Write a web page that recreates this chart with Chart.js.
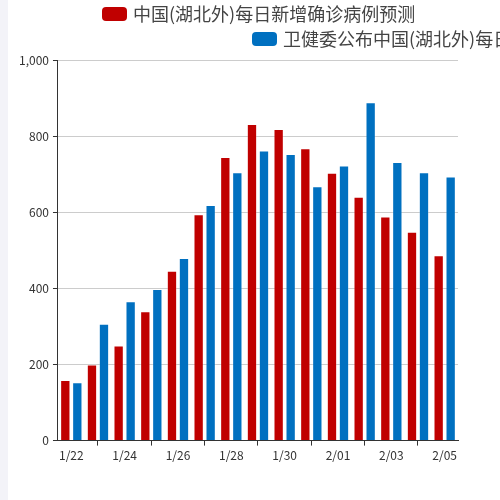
<!DOCTYPE html>
<html>
<head>
<meta charset="utf-8">
<script src="https://cdn.jsdelivr.net/npm/chart.js@4"></script>
<style>
  html, body { margin: 0; padding: 0; background: #f3f3f8; overflow: hidden; }
  #wrap { position: absolute; left: 8px; top: 0; width: 492px; height: 500px; background: #fff; }
</style>
</head>
<body>
<div id="wrap"><canvas id="grafico"></canvas></div>
<script>
// casos diarios fora de Hubei
const dias = ['1/22', '1/23', '1/24', '1/25', '1/26', '1/27', '1/28', '1/29', '1/30', '1/31', '2/01', '2/02', '2/03', '2/04', '2/05'];
const previsto = [159, 200, 250, 340, 446, 595, 745, 832, 819, 768, 704, 641, 589, 549, 487];
const informado = [153, 307, 366, 398, 480, 619, 705, 762, 753, 668, 723, 889, 732, 705, 694];
const yTicks = [0, 200, 400, 600, 800, 1000];

const fonteCJK = "'Noto Sans CJK SC', 'Noto Sans', sans-serif";

// legenda desenhada a mao, para ficar igual ao original
const legendaPlugin = {
    id: 'legendaManual',
    afterDraw(chart) {
        const ctx = chart.ctx;
        const pos = [[94, 7], [244, 32]];
        ctx.save();
        chart.data.datasets.forEach((ds, i) => {
            const [x, y] = pos[i];
            ctx.fillStyle = ds.backgroundColor;
            ctx.beginPath();
            ctx.roundRect(x, y, 25, 14, 4);
            ctx.fill();
            ctx.fillStyle = '#444';
            ctx.font = '18px ' + fonteCJK;
            ctx.textBaseline = 'middle';
            ctx.textAlign = 'left';
            ctx.fillText(ds.label, x + 31, y + 7);
        });
        ctx.restore();
    }
};

new Chart(document.getElementById('grafico'), {
    type: 'bar',
    data: {
        labels: dias,
        datasets: [{
            label: '中国(湖北外)每日新增确诊病例预测',
            data: previsto,
            backgroundColor: '#c00000',
            borderColor: 'rgba(255,255,255,0.25)',
            borderWidth: 1,
            categoryPercentage: 0.9,
            barPercentage: 0.86
        }, {
            label: '卫健委公布中国(湖北外)每日新增确诊病例',
            data: informado,
            backgroundColor: '#0070c0',
            borderColor: 'rgba(255,255,255,0.25)',
            borderWidth: 1,
            categoryPercentage: 0.9,
            barPercentage: 0.86
        }]
    },
    options: {
        responsive: true,
        maintainAspectRatio: false,
        animation: false,
        layout: {
            padding: { top: 60, left: 7, right: 42, bottom: 34 }
        },
        plugins: {
            legend: { display: false },
            tooltip: { enabled: false }
        },
        scales: {
            x: {
                grid: {
                    offset: false,
                    drawOnChartArea: false,
                    tickLength: 5,
                    color: (c) => c.index % 2 === 1 ? '#333' : 'rgba(0,0,0,0)',
                    tickColor: (c) => c.index % 2 === 1 ? '#333' : 'rgba(0,0,0,0)'
                },
                border: { color: '#333', width: 1 },
                ticks: {
                    autoSkip: false,
                    maxRotation: 0,
                    padding: 3,
                    color: '#333',
                    font: { family: fonteCJK, size: 12 },
                    callback: (v, i) => i % 2 === 0 ? dias[i] : ''
                }
            },
            y: {
                min: 0,
                max: 1000,
                afterBuildTicks: (axis) => { axis.ticks = yTicks.map(v => ({ value: v })); },
                grid: {
                    color: '#ccc',
                    tickColor: '#333',
                    tickLength: 5
                },
                border: { color: '#333', width: 1 },
                ticks: {
                    padding: 4,
                    color: '#333',
                    font: { family: fonteCJK, size: 12 }
                }
            }
        }
    },
    plugins: [legendaPlugin]
});
</script>
</body>
</html>
